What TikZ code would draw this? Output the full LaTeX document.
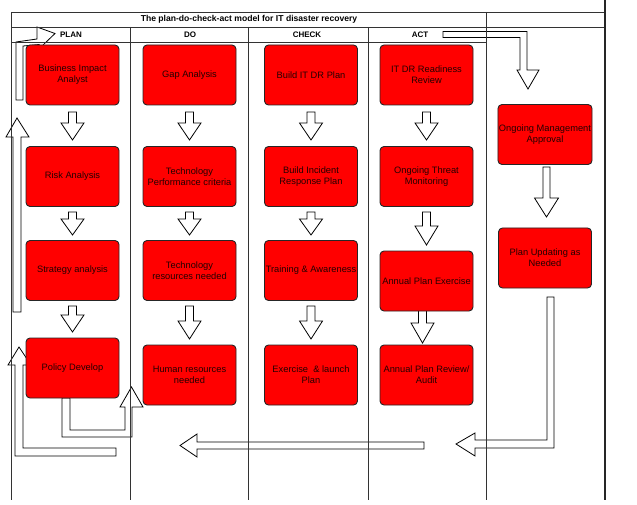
\documentclass[tikz,border=0pt]{standalone}
\usepackage{fontspec}
\setmainfont{Liberation Sans}
\definecolor{boxtext}{RGB}{35,0,0}
\definecolor{boxred}{RGB}{255,0,0}
% hollow block arrow pointing down: x, shaft half width, head half width, top, head base, tip
\newcommand\dnblock[6]{%
  \draw[blk] (#1-#2,#4) -- (#1+#2,#4) -- (#1+#2,#5) -- (#1+#3,#5) -- (#1,#6)
    -- (#1-#3,#5) -- (#1-#2,#5) -- cycle;}
\begin{document}
\begin{tikzpicture}[x=1pt,y=-1pt,
  box/.style={draw=black!85, line width=0.9pt, fill=boxred, rounded corners=4pt,
    minimum width=93pt, minimum height=60pt, inner sep=1pt, align=center,
    font=\fontsize{9.3}{11}\selectfont, text=boxtext},
  gridline/.style={draw=black!80, line width=0.7pt},
  blk/.style={draw=black, fill=white, line width=0.8pt, line join=miter},
  hdr/.style={font=\bfseries\fontsize{8}{9}\selectfont, inner sep=0}]
\useasboundingbox (0,0) rectangle (637,505);

% ---- block arrows between the stages ----
\dnblock{72.5}{4}{11.5}{112}{123}{140}
\dnblock{72.5}{4}{11.5}{212}{219}{235}
\dnblock{72.5}{4}{11.5}{306}{315}{332}
\dnblock{189.5}{4}{11.5}{112}{123}{140}
\dnblock{189.5}{4}{11.5}{212}{219}{235}
\dnblock{189.5}{4}{11.5}{306}{321}{339}
\dnblock{311}{4}{11.5}{112}{123}{140}
\dnblock{311}{4}{11.5}{212}{219}{235}
\dnblock{311}{4}{11.5}{306}{321}{339}
\dnblock{426.5}{4}{11.5}{112}{123}{140}
\dnblock{426.5}{4}{11.5}{212}{226}{245}
\dnblock{422.5}{4}{11.5}{309}{323}{343}
\dnblock{546.5}{3.5}{12}{167}{198}{217}

% ACT header into the review column
\draw[blk] (443,31.5) -- (527,31.5) -- (527,70) -- (539,70) -- (528,89)
  -- (517,70) -- (520,70) -- (520,37.5) -- (443,37.5) -- cycle;
% plan updating back towards the bottom row
\draw[blk] (547,297) -- (554,297) -- (554,448) -- (475,448) -- (475,456)
  -- (456,444) -- (475,433) -- (475,440) -- (547,440) -- cycle;
% long return arrow
\draw[blk] (424,442) -- (424,449) -- (197,449) -- (197,457) -- (180,445.5)
  -- (197,434) -- (197,442) -- cycle;
% policy develop to human resources
\draw[blk] (62,398) -- (62,437) -- (132,437) -- (132,407) -- (143,407)
  -- (131.5,387) -- (120,407) -- (125,407) -- (125,430) -- (70,430)
  -- (70,398) -- cycle;
% bottom loop back up to policy develop
\draw[blk] (116,448) -- (23,448) -- (23,365) -- (31,365) -- (19,347)
  -- (8,365) -- (15,365) -- (15,456) -- (116,456) -- cycle;
% left rising arrow
\draw[blk] (13,312) -- (13,137) -- (6,137) -- (17,118) -- (29,137)
  -- (21,137) -- (21,312) -- cycle;
% top-left arrow into PLAN
\draw[blk] (16,100) -- (16,42) -- (37,39) -- (37,27) -- (55,33.5)
  -- (41,47) -- (39,44.5) -- (23,46) -- (23,100) -- cycle;

% ---- table frame ----
\draw[gridline, line width=0.9pt] (11,12) -- (605,12);
\draw[gridline] (11,27) -- (605,27);
\draw[gridline] (11,42) -- (486,42);
\draw[gridline] (11,12) -- (11,500);
\draw[gridline] (130,27) -- (130,500);
\draw[gridline] (248,27) -- (248,500);
\draw[gridline] (368,27) -- (368,500);
\draw[gridline] (486,12) -- (486,500);
\draw[black!85, line width=2.4pt] (605,0) -- (605,500);

% ---- headings ----
\node[hdr, font=\bfseries\fontsize{8.6}{9}\selectfont] (title) at (249,19.5)
  {The plan-do-check-act model for IT disaster recovery};
\node[hdr] (hplan) at (71,35) {PLAN};
\node[hdr] (hdo) at (190,35) {DO};
\node[hdr] (hcheck) at (307,35) {CHECK};
\node[hdr] (hact) at (420,35) {ACT};

% ---- stages ----
\node[box] (p1) at (72.5,75) {Business Impact\\Analyst};
\node[box] (p2) at (72.5,176.5) {Risk Analysis};
\node[box] (p3) at (72.5,270.5) {Strategy analysis};
\node[box] (p4) at (72.5,368) {Policy Develop};
\node[box] (d1) at (189.5,75) {Gap Analysis};
\node[box] (d2) at (189.5,176.5) {Technology\\Performance criteria};
\node[box] (d3) at (189.5,270.5) {Technology\\resources needed};
\node[box] (d4) at (189.5,375) {Human resources\\needed};
\node[box] (c1) at (311,75) {Build IT DR Plan};
\node[box] (c2) at (311,176.5) {Build Incident\\Response Plan};
\node[box] (c3) at (311,270.5) {Training \& Awareness};
\node[box] (c4) at (311,375) {Exercise\ \ \& launch\\Plan};
\node[box] (a1) at (426.5,75) {IT DR Readiness\\Review};
\node[box] (a2) at (426.5,176.5) {Ongoing Threat\\Monitoring};
\node[box] (a3) at (426.5,281) {Annual Plan Exercise};
\node[box] (a4) at (426.5,375) {Annual Plan Review/\\Audit};
\node[box] (m1) at (545,134.5) {Ongoing Management\\Approval};
\node[box] (m2) at (545,258) {Plan Updating as\\Needed};
\end{tikzpicture}
\end{document}
